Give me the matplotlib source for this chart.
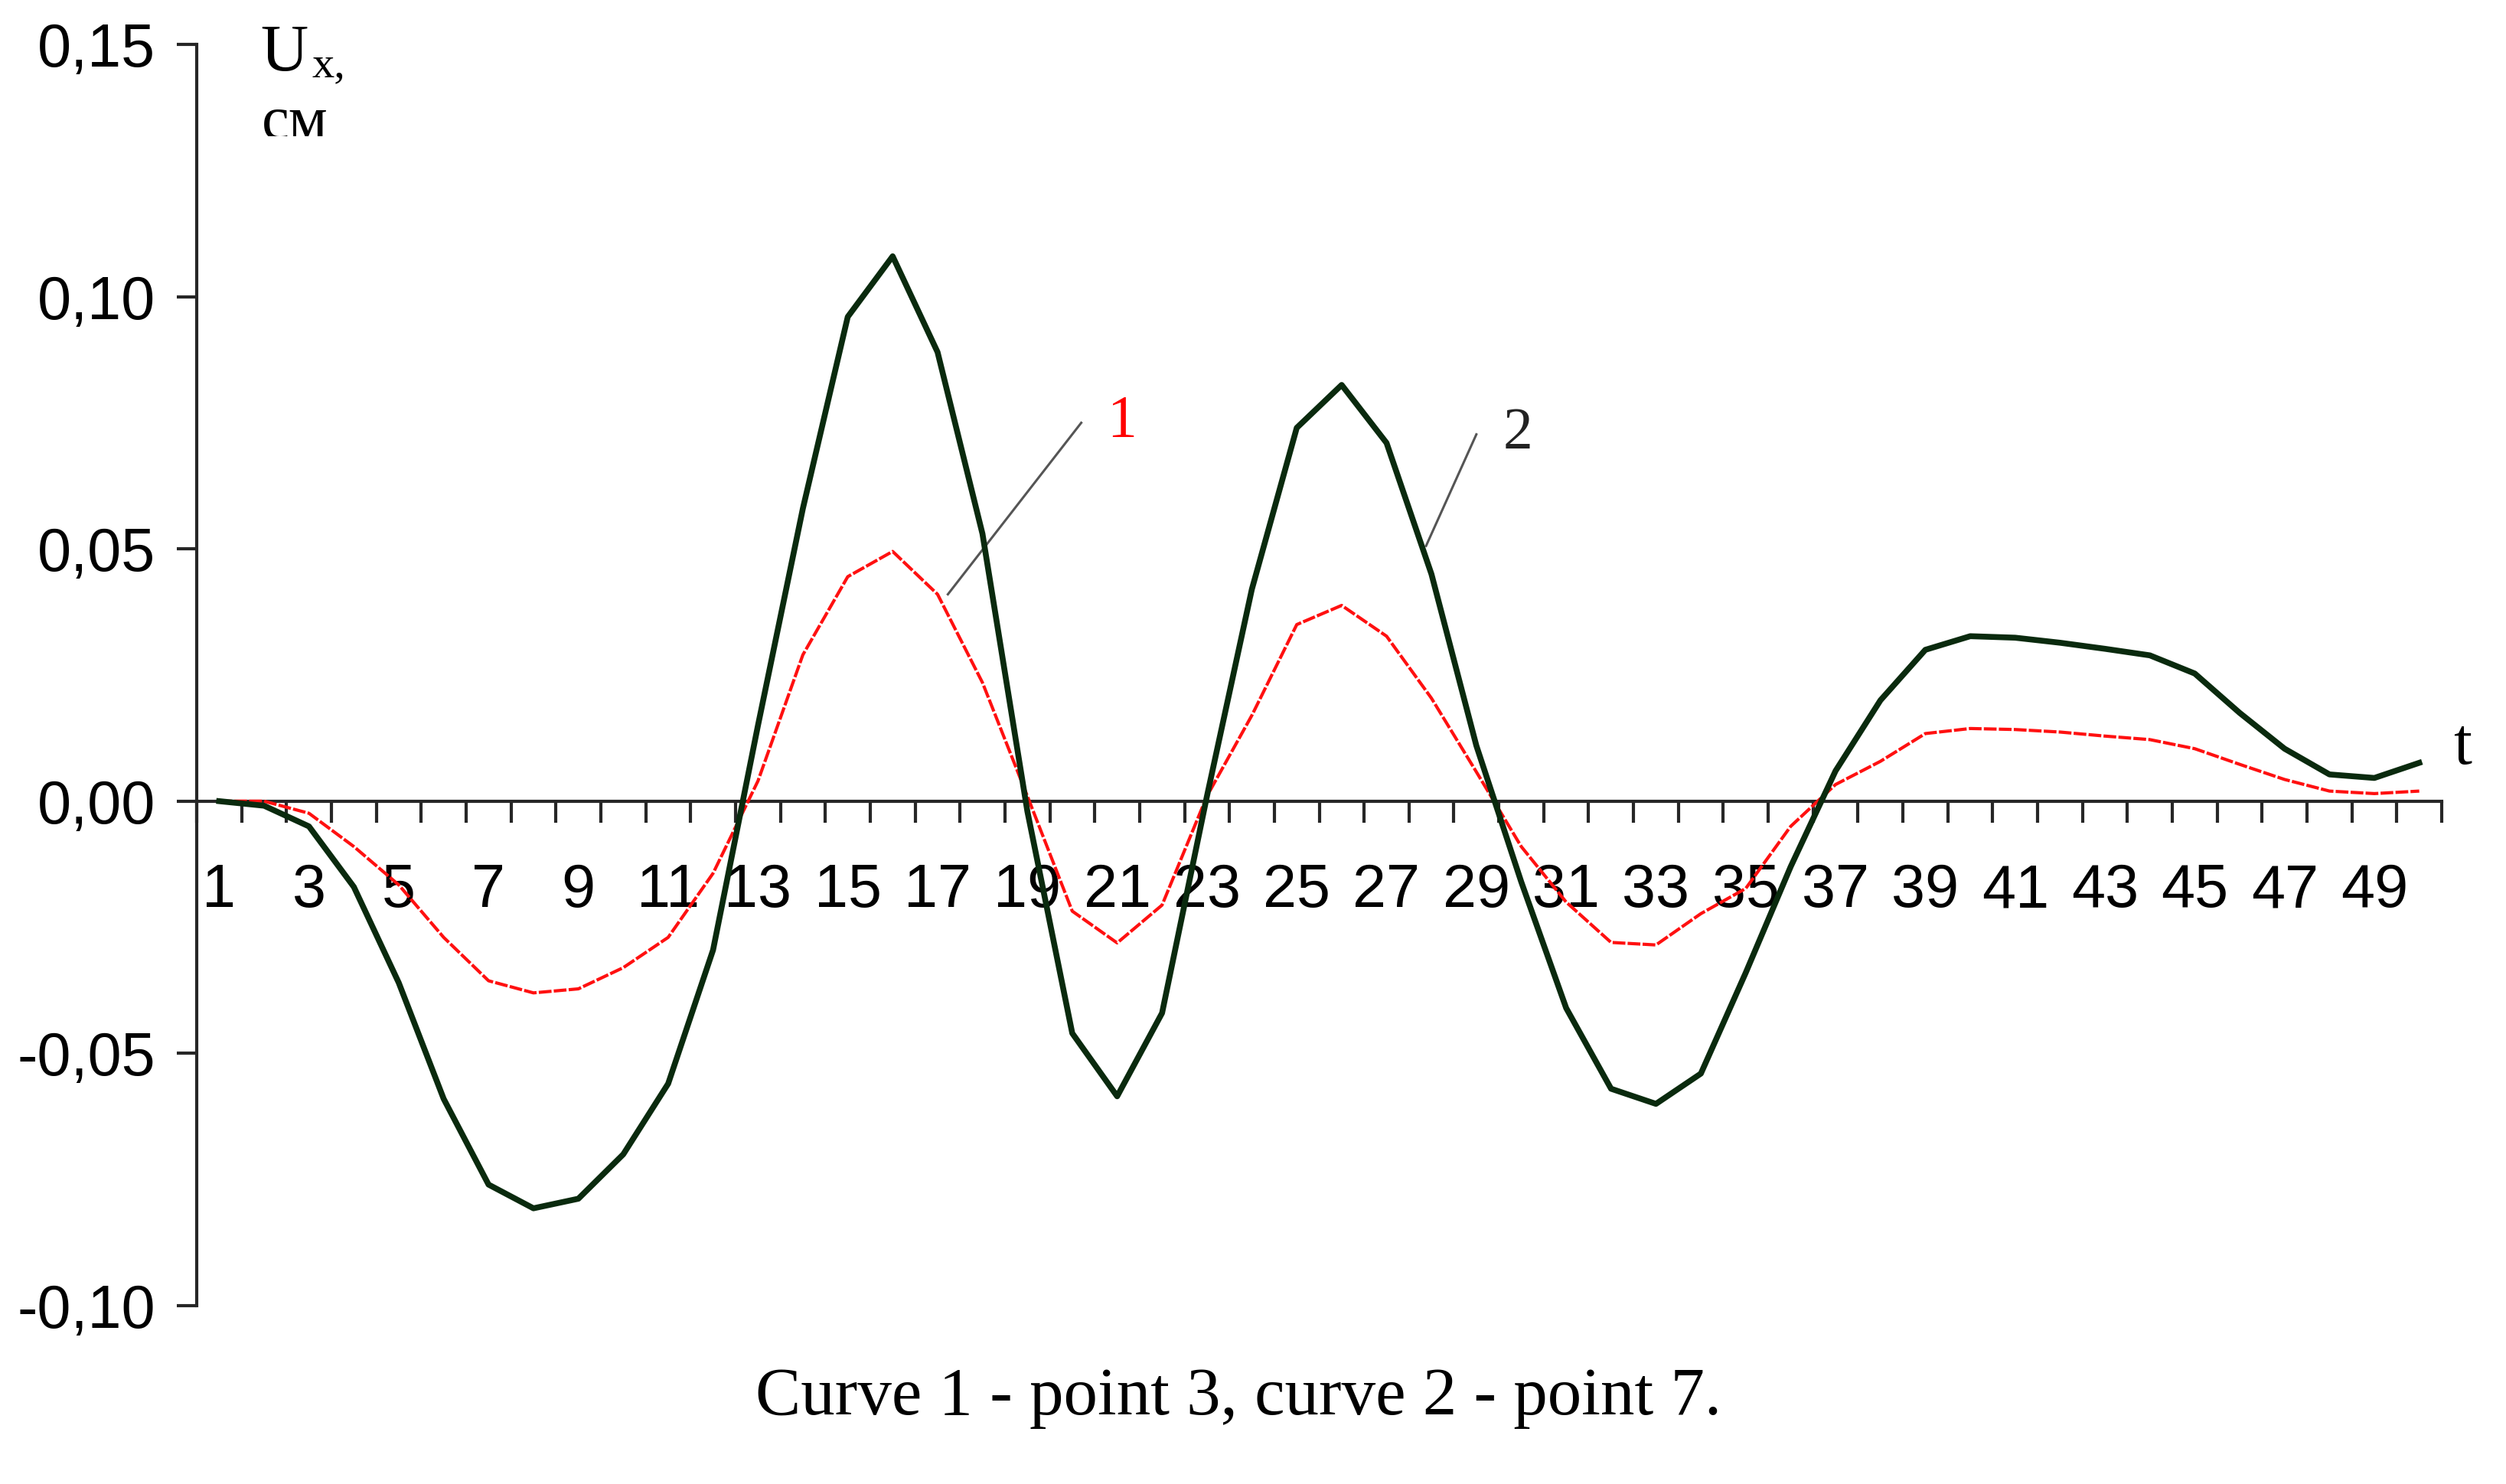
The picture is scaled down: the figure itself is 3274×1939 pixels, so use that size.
import numpy as np
import matplotlib
matplotlib.use("Agg")
import matplotlib.pyplot as plt
from matplotlib.transforms import Bbox, TransformedBbox

# time steps (categories 1..50)
t = np.arange(1, 51)

# curve 1 - point 3 (red)
curve1 = [0.0, 0.0, -0.0024, -0.009, -0.0166, -0.027, -0.0356, -0.038, -0.0372, -0.033,
          -0.027, -0.0143, 0.004, 0.029, 0.0445, 0.0495, 0.041, 0.0235, 0.001, -0.0218,
          -0.0281, -0.0206, 0.001, 0.017, 0.035, 0.0388, 0.0327, 0.0204, 0.0058, -0.009,
          -0.020, -0.028, -0.0285, -0.0223, -0.0173, -0.005, 0.0033, 0.0079, 0.0134, 0.0144,
          0.0142, 0.0137, 0.0129, 0.0122, 0.0104, 0.0073, 0.0043, 0.002, 0.0015, 0.002]

# curve 2 - point 7 (dark green)
curve2 = [0.0, -0.0009, -0.005, -0.017, -0.036, -0.059, -0.076, -0.0807, -0.0788, -0.070,
          -0.056, -0.0295, 0.015, 0.058, 0.096, 0.108, 0.089, 0.053, -0.002, -0.046,
          -0.0585, -0.042, 0.001, 0.042, 0.074, 0.0825, 0.071, 0.045, 0.011, -0.016,
          -0.041, -0.057, -0.060, -0.054, -0.034, -0.013, 0.006, 0.020, 0.030, 0.0327,
          0.0324, 0.0314, 0.0302, 0.0289, 0.0253, 0.0175, 0.0104, 0.0053, 0.0046, 0.0076]

y_ticks = [-0.10, -0.05, 0.0, 0.05, 0.10, 0.15]
y_labels = ["-0,10", "-0,05", "0,00", "0,05", "0,10", "0,15"]
x_label_pos = list(range(1, 51, 2))
x_labels = [str(v) for v in x_label_pos]

W, H = 3274, 1939
INK = "#262626"
RED = "#ff1010"
GREEN = "#0a2a0e"
SANS = "Liberation Sans"
SERIF = "Liberation Serif"

fig = plt.figure(figsize=(W / 100, H / 100), dpi=100)
ax = fig.add_axes([257 / W, 1 - 1706 / H, (3190 - 257) / W, (1706 - 58) / H])

ax.plot(t, curve1, color=RED, lw=3.0, ls=(0, (4, 0.7)), zorder=3)
ax.plot(t, curve2, color=GREEN, lw=5.5, zorder=4)

ax.set_xlim(0.5, 50.5)
ax.set_ylim(-0.10, 0.15)

for s in ("top", "right"):
    ax.spines[s].set_visible(False)
ax.spines["bottom"].set_position(("data", 0))
for s in ("left", "bottom"):
    ax.spines[s].set_color(INK)
    ax.spines[s].set_linewidth(3)

# category axis: ticks between categories, labels on odd steps
ax.set_xticks(np.arange(0.5, 51, 1.0))
ax.set_xticklabels([])
ax.set_xticks(x_label_pos, minor=True)
ax.set_xticklabels(x_labels, minor=True, fontsize=57, family=SANS)
ax.tick_params(axis="x", which="major", direction="out", length=20, width=3, color=INK)
ax.tick_params(axis="x", which="minor", length=0, pad=58)

ax.set_yticks(y_ticks)
ax.set_yticklabels(y_labels, fontsize=57, family=SANS)
ax.tick_params(axis="y", direction="out", length=19, width=3, color=INK, pad=20)

# leader lines and curve numbers
ax.plot([17.23, 20.2], [0.041, 0.075], color="#555555", lw=2.2)
ax.text(21.1, 0.0752, "1", color="#ff0000", fontsize=56, family=SERIF,
        ha="center", va="center")
ax.plot([27.88, 29.0], [0.0506, 0.0727], color="#555555", lw=2.2)
ax.text(29.92, 0.0727, "2", color="#222222", fontsize=56, family=SERIF,
        ha="center", va="center")

# axis names
fig.text(340 / W, 1 - 92 / H, "U", fontsize=62, family=SERIF, ha="left", va="baseline")
fig.text(407 / W, 1 - 100 / H, "x,", fontsize=42, family=SERIF, ha="left", va="baseline")
cm = fig.text(342 / W, 1 - 181 / H, "см", fontsize=58, family=SERIF,
              ha="left", va="baseline")
cm.set_clip_box(TransformedBbox(Bbox([[0, 1 - 178 / H], [1, 1]]), fig.transFigure))
cm.set_clip_on(True)
fig.text(3217 / W, 1 - 998 / H, "t", fontsize=62, family=SERIF, ha="center", va="baseline")

fig.text(1618 / W, 1 - 1848 / H, "Curve 1 - point 3, curve 2 - point 7.",
         fontsize=64, family=SERIF, ha="center", va="baseline")

fig.savefig("out.png", dpi=100)
